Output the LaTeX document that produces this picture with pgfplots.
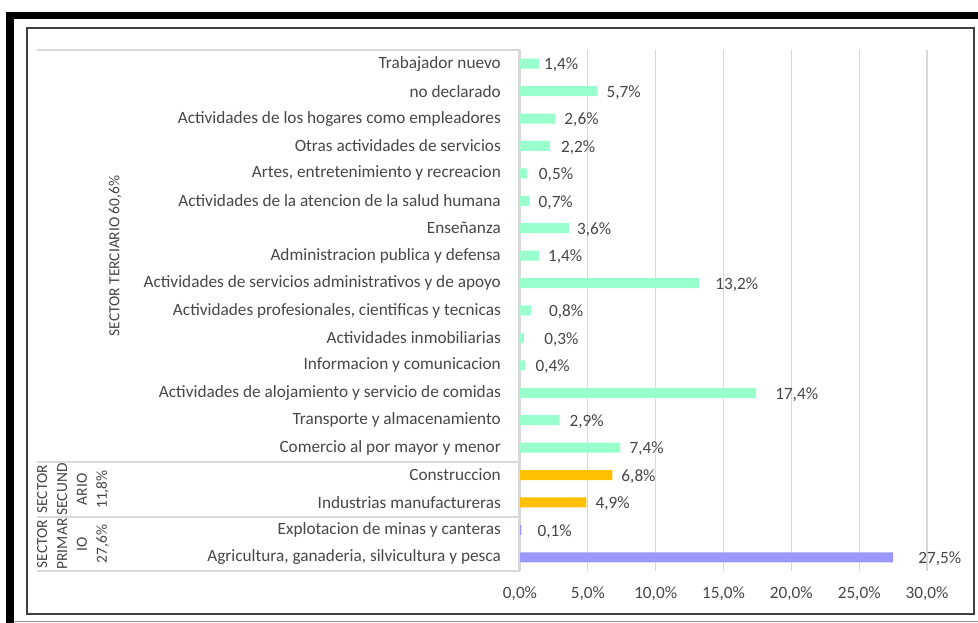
\documentclass[border=0pt]{standalone}
\usepackage{pgfplots}
\pgfplotsset{compat=1.18}
\usepackage{pgfplotstable}
\usepackage{fontspec}
\setmainfont{Carlito}
\definecolor{txt}{HTML}{474747}
\definecolor{mint}{HTML}{99FFCC}
\definecolor{gold}{HTML}{FFC000}
\definecolor{lav}{HTML}{9999FF}
\definecolor{boxgray}{HTML}{D9D9D9}
\newcommand\lbl{\fontsize{17.3}{20}\selectfont}
\newcommand\grp{\fontsize{15.5}{20}\selectfont}

% y = row index (0 = bottom), val = percent, shift = gap of data label (bp)
\pgfplotstableread{
y val shift
4 7.4 9
5 2.9 10
6 17.4 19
7 0.4 10
8 0.3 20
9 0.8 18
10 13.2 16
11 1.4 9
12 3.6 8
13 0.7 9
14 0.5 12
15 2.2 11
16 2.6 9
17 5.7 9
18 1.4 5
}\terciario
\pgfplotstableread{
y val shift
2 4.9 9
3 6.8 9
}\secundario
\pgfplotstableread{
y val shift
0 27.5 25
1 0.1 16
}\primario

\begin{document}
\begin{tikzpicture}[x=1bp,y=1bp]
\fill[white] (0,0) rectangle (978,623);
% outer frame
\fill[black] (6,604) rectangle (978,611);
\fill[black] (6,0) rectangle (14,611);
\draw[line width=1.6bp, color=black!75] (27,9) rectangle (974,595);
\draw[line width=1bp, color=black!40] (14,1.5) -- (978,1.5);

\begin{axis}[
  at={(520bp,52bp)}, anchor=south west,
  scale only axis, width=407bp, height=521bp,
  xmin=0, xmax=30, ymin=-0.5, ymax=18.5,
  clip=false,
  axis line style={draw=none},
  major tick length=0pt,
  xmajorgrids, grid style={boxgray, line width=1.3bp},
  xtick={0,5,...,30},
  xticklabel={\pgfmathprintnumber[fixed,fixed zerofill,precision=1,use comma]{\tick}\%},
  /pgf/number format/assume math mode=true,
  xticklabel style={font=\lbl, text=txt, yshift=-12bp},
  ytick={0,...,18},
  yticklabels={
    {Agricultura, ganaderia, silvicultura y pesca},
    {Explotacion de minas y canteras},
    {Industrias manufactureras},
    {Construccion},
    {Comercio al por mayor y menor},
    {Transporte y almacenamiento},
    {Actividades de alojamiento y servicio de comidas},
    {Informacion y comunicacion},
    {Actividades inmobiliarias},
    {Actividades profesionales, cientificas y tecnicas},
    {Actividades de servicios administrativos y de apoyo},
    {Administracion publica y defensa},
    {Enseñanza},
    {Actividades de la atencion de la salud humana},
    {Artes, entretenimiento y recreacion},
    {Otras actividades de servicios},
    {Actividades de los hogares como empleadores},
    {no declarado},
    {Trabajador nuevo}},
  yticklabel style={font=\lbl, text=txt, anchor=east, inner sep=0pt, xshift=-19bp},
  xbar, bar width=10bp, bar shift=0pt,
  point meta=x,
  visualization depends on={\thisrow{shift} \as \myshift},
  nodes near coords={\pgfmathprintnumber[fixed,fixed zerofill,precision=1,use comma]{\pgfplotspointmeta}\%},
  every node near coord/.append style={font=\lbl, text=txt, anchor=west, inner sep=0pt, xshift=\myshift bp, yshift=-1.5bp},
]
\addplot[fill=mint, draw=none] table[x=val, y=y] {\terciario};
\addplot[fill=gold, draw=none] table[x=val, y=y] {\secundario};
\addplot[fill=lav, draw=none] table[x=val, y=y] {\primario};
\end{axis}

% category box lines
\draw[boxgray, line width=1.3bp] (37,573) -- (520,573);
\draw[boxgray, line width=1.3bp] (37,161) -- (520,161);
\draw[boxgray, line width=1.3bp] (37,106) -- (520,106);
\draw[boxgray, line width=1.3bp] (37,52) -- (520,52);
\draw[boxgray, line width=1.3bp] (519,52) -- (519,573);

% group labels
\node[rotate=90, font=\grp, text=txt] at (115,367) {SECTOR TERCIARIO 60,6\%};
\node[rotate=90, font=\grp, text=txt, align=center, inner sep=0pt] at (73,133.5) {SECTOR\\SECUND\\ARIO\\11,8\%};
\node[rotate=90, font=\grp, text=txt, align=center, inner sep=0pt] at (73,79) {SECTOR\\PRIMAR\\IO\\27,6\%};

\pgfresetboundingbox
\path[use as bounding box] (0,0) rectangle (978,623);
\end{tikzpicture}
\end{document}
